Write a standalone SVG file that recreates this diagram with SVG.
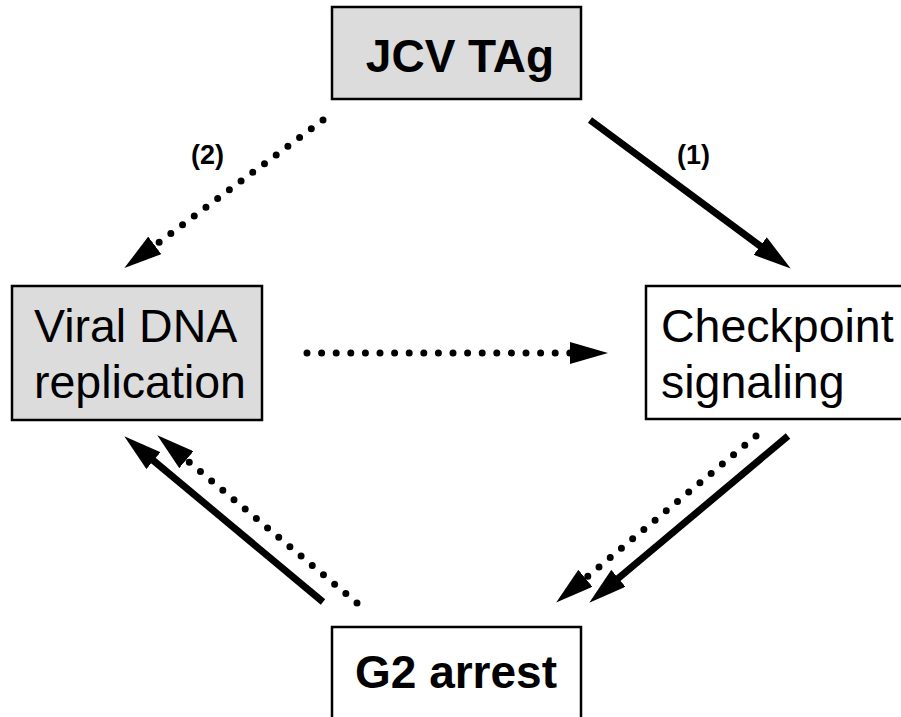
<svg xmlns="http://www.w3.org/2000/svg" width="901" height="717" viewBox="0 0 901 717">
<style>
.box{stroke:#000;stroke-width:2.5}
.gray{fill:#dcdcdc}
.white{fill:#fff}
.t{font-family:"Liberation Sans",Arial,sans-serif;font-size:46.5px;fill:#000}
.b{font-weight:bold;font-size:46px}
.lbl{font-family:"Liberation Sans",Arial,sans-serif;font-size:27px;font-weight:bold;fill:#000}
.solid{stroke:#000;stroke-width:7;fill:none}
.dot{stroke:#000;stroke-width:7;fill:none;stroke-linecap:round;stroke-dasharray:0 14.6}
</style>
<defs>
<marker id="ah" markerUnits="userSpaceOnUse" viewBox="0 -11 38 22" markerWidth="38" markerHeight="22" refX="1" refY="0" orient="auto">
<path d="M0,-11 L38,0 L0,11 z" fill="#000"/>
</marker>
</defs>
<rect width="901" height="717" fill="#fff"/>
<g id="jcv">
<rect class="box gray" x="332" y="7" width="249" height="92"/>
<text class="t b" x="460" y="72" text-anchor="middle">JCV TAg</text>
</g>
<g id="viral">
<rect class="box gray" x="12" y="286" width="250" height="134"/>
<text class="t" x="34" y="342">Viral DNA</text>
<text class="t" x="34" y="398">replication</text>
</g>
<g id="checkpoint">
<rect class="box white" x="646" y="286" width="260" height="133"/>
<text class="t" x="661" y="342">Checkpoint</text>
<text class="t" x="661" y="398">signaling</text>
</g>
<g id="g2">
<rect class="box white" x="332" y="627" width="249" height="100"/>
<text class="t b" x="456" y="688" text-anchor="middle">G2 arrest</text>
</g>
<g id="connectors">
<path class="dot" d="M323,120 L154,246" marker-end="url(#ah)"/>
<path class="solid" d="M590,120 L761,246.6" marker-end="url(#ah)"/>
<path class="dot" d="M307,353 L571,353" marker-end="url(#ah)"/>
<path class="solid" d="M323,602 L152.7,460" marker-end="url(#ah)"/>
<path class="dot" d="M357,603 L185.6,459.1" marker-end="url(#ah)"/>
<path class="solid" d="M788,436 L617.6,578.9" marker-end="url(#ah)"/>
<path class="dot" d="M756,436 L584.6,578.9" marker-end="url(#ah)"/>
<text class="lbl" x="191" y="164">(2)</text>
<text class="lbl" x="677" y="164">(1)</text>
</g>
</svg>
